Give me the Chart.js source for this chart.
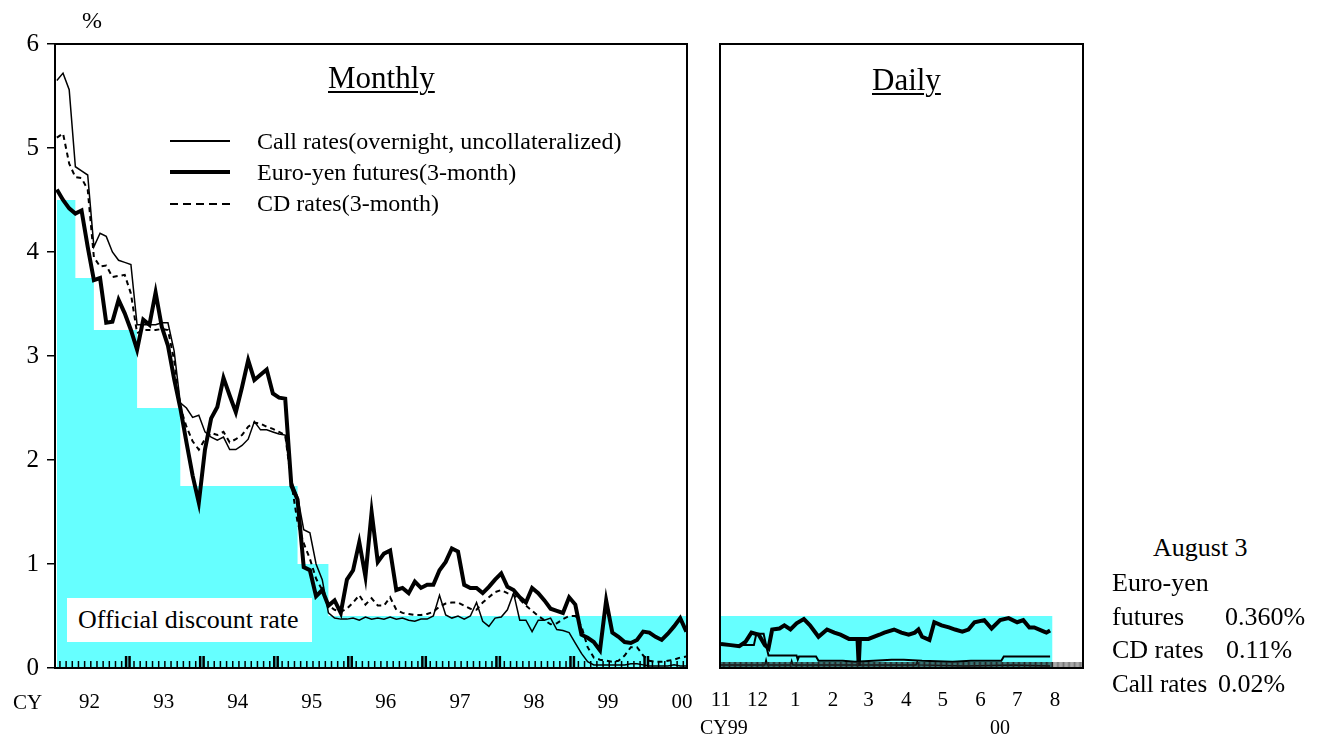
<!DOCTYPE html>
<html>
<head>
<meta charset="utf-8">
<script src="https://cdn.jsdelivr.net/npm/chart.js@4.4.1/dist/chart.umd.min.js"></script>
<style>
  body { margin: 0; background: #fff; width: 1323px; height: 740px; position: relative; overflow: hidden;
         font-family: "Liberation Serif", "DejaVu Serif", serif; color: #000; }
  canvas { position: absolute; top: 0; }
  .t { position: absolute; line-height: 1; white-space: nowrap; }
  .u { text-decoration: underline; text-underline-offset: 3px; text-decoration-thickness: 2px; }
  .ln { position: absolute; left: 170px; width: 60px; }
</style>
</head>
<body>
<canvas id="monthly" width="700" height="740" style="left:0"></canvas>
<canvas id="daily" width="420" height="740" style="left:700px"></canvas>

<div class="t" style="left:82px;top:8px;font-size:24px">%</div>
<div class="t" style="left:13px;top:692px;font-size:21px">CY</div>
<div class="t u" style="left:328px;top:62px;font-size:31px">Monthly</div>
<div class="t u" style="left:872px;top:64px;font-size:31px">Daily</div>

<div class="ln" style="top:140px;height:1.5px;background:#000"></div>
<div class="ln" style="top:170px;height:4px;background:#000"></div>
<div class="ln" style="top:203px;height:2px;background:repeating-linear-gradient(90deg,#000 0 8px,transparent 8px 13px)"></div>
<div class="t" style="left:257px;top:129px;font-size:24px">Call rates(overnight, uncollateralized)</div>
<div class="t" style="left:257px;top:160px;font-size:24px">Euro-yen futures(3-month)</div>
<div class="t" style="left:257px;top:191px;font-size:24px">CD rates(3-month)</div>

<div style="position:absolute;left:67px;top:598px;width:245px;height:44px;background:#fff"></div>
<div class="t" style="left:78px;top:607px;font-size:26px">Official discount rate</div>

<div class="t" style="left:700px;top:717px;font-size:20px">CY99</div>
<div class="t" style="left:990px;top:717px;font-size:20px">00</div>

<div class="t" style="left:1153px;top:535px;font-size:26px">August 3</div>
<div class="t" style="left:1112px;top:570px;font-size:26px">Euro-yen</div>
<div class="t" style="left:1112px;top:604px;font-size:26px">futures</div>
<div class="t" style="left:1225px;top:604px;font-size:26px">0.360%</div>
<div class="t" style="left:1112px;top:637px;font-size:26px">CD rates</div>
<div class="t" style="left:1226px;top:637px;font-size:26px">0.11%</div>
<div class="t" style="left:1112px;top:671px;font-size:25px">Call rates</div>
<div class="t" style="left:1218px;top:671px;font-size:26px">0.02%</div>

<script>
// ---- monthly data, Jan 1992 = month 0 ----
const callMonthly = [
  5.65, 5.72, 5.56, 4.82, 4.78, 4.74, 4.05, 4.18, 4.15, 4.00, 3.92, 3.90,
  3.88, 3.30, 3.30, 3.30, 3.30, 3.32, 3.32, 3.05, 2.55, 2.50, 2.41, 2.43,
  2.27, 2.22, 2.19, 2.22, 2.10, 2.10, 2.14, 2.20, 2.37, 2.29, 2.29, 2.27,
  2.25, 2.24, 1.80, 1.65, 1.33, 1.30, 1.00, 0.85, 0.53, 0.48, 0.47, 0.47,
  0.48, 0.46, 0.49, 0.47, 0.48, 0.47, 0.49, 0.47, 0.48, 0.46, 0.45, 0.47,
  0.47, 0.50, 0.70, 0.51, 0.48, 0.50, 0.47, 0.50, 0.63, 0.45, 0.40, 0.48,
  0.49, 0.56, 0.72, 0.46, 0.46, 0.35, 0.46, 0.46, 0.48, 0.37, 0.36, 0.34,
  0.24, 0.14, 0.06, 0.03, 0.03, 0.03, 0.03, 0.03, 0.03, 0.04, 0.04, 0.03,
  0.02, 0.02, 0.02, 0.02, 0.03, 0.02, 0.02
];
const futuresMonthly = [
  4.60, 4.50, 4.42, 4.37, 4.40, 4.05, 3.73, 3.75, 3.32, 3.33, 3.54, 3.41,
  3.25, 3.06, 3.35, 3.30, 3.61, 3.28, 3.10, 2.78, 2.50, 2.17, 1.85, 1.59,
  2.10, 2.40, 2.51, 2.79, 2.62, 2.46, 2.70, 2.96, 2.77, 2.82, 2.87, 2.64,
  2.60, 2.59, 1.75, 1.62, 0.97, 0.94, 0.69, 0.75, 0.60, 0.65, 0.53, 0.85,
  0.94, 1.21, 0.88, 1.50, 1.02, 1.10, 1.13, 0.75, 0.77, 0.72, 0.83, 0.77,
  0.80, 0.80, 0.94, 1.02, 1.15, 1.12, 0.80, 0.77, 0.77, 0.72, 0.78, 0.85,
  0.91, 0.78, 0.75, 0.68, 0.63, 0.77, 0.72, 0.65, 0.57, 0.55, 0.53, 0.68,
  0.61, 0.32, 0.29, 0.25, 0.17, 0.65, 0.34, 0.30, 0.25, 0.24, 0.27, 0.35,
  0.34, 0.30, 0.27, 0.33, 0.40, 0.48, 0.35
];
const cdMonthly = [
  5.10, 5.14, 4.85, 4.72, 4.71, 4.60, 3.95, 3.86, 3.87, 3.76, 3.77, 3.78,
  3.60, 3.22, 3.25, 3.25, 3.25, 3.26, 3.25, 2.96, 2.51, 2.32, 2.18, 2.10,
  2.20, 2.26, 2.24, 2.27, 2.17, 2.20, 2.24, 2.32, 2.36, 2.35, 2.32, 2.30,
  2.27, 2.24, 1.78, 1.40, 1.20, 1.05, 0.86, 0.75, 0.60, 0.56, 0.54, 0.57,
  0.63, 0.70, 0.61, 0.67, 0.60, 0.60, 0.68, 0.56, 0.53, 0.52, 0.51, 0.51,
  0.52, 0.54, 0.59, 0.62, 0.63, 0.63, 0.60, 0.57, 0.56, 0.63, 0.68, 0.73,
  0.75, 0.72, 0.70, 0.66, 0.60, 0.55, 0.50, 0.46, 0.42, 0.43, 0.47, 0.50,
  0.50, 0.40, 0.20, 0.10, 0.08, 0.07, 0.06, 0.07, 0.12, 0.20, 0.20, 0.12,
  0.07, 0.06, 0.06, 0.07, 0.08, 0.10, 0.11
];
// official discount rate: month of change and new level
const odrMonths = [0, 3, 6, 13, 20, 39, 44, 102];
const odrRates = [4.5, 3.75, 3.25, 2.5, 1.75, 1.0, 0.5, 0.5];
const yearLabels = ["92", "93", "94", "95", "96", "97", "98", "99", "00"];

// ---- daily data, Nov 1 1999 = day 0 ----
const futDays = [0, 8, 15, 20, 25, 31, 36, 39, 42, 48, 52, 57, 62, 68, 73, 80, 87, 93, 98, 105, 112, 113, 114,
  121, 130, 134, 142, 148, 154, 159, 162, 165, 171, 175, 181, 187, 192, 198, 203, 208, 216, 222, 229, 236,
  243, 248, 253, 257, 265, 267, 270];
const futDaily = [0.23, 0.22, 0.21, 0.25, 0.34, 0.32, 0.22, 0.19, 0.37, 0.38, 0.41, 0.37, 0.43, 0.47, 0.41, 0.30,
  0.37, 0.34, 0.32, 0.28, 0.28, 0.02, 0.28, 0.28, 0.32, 0.34, 0.37, 0.34, 0.32, 0.34, 0.37, 0.30, 0.27, 0.44,
  0.41, 0.39, 0.37, 0.35, 0.37, 0.44, 0.46, 0.38, 0.46, 0.48, 0.44, 0.46, 0.39, 0.39, 0.35, 0.34, 0.36];
const cdDays = [0, 27, 29, 35, 37, 39, 62, 63, 64, 78, 80, 100, 110, 125, 140, 150, 165, 190, 205, 230, 232, 270];
const cdDaily = [0.22, 0.22, 0.33, 0.33, 0.22, 0.12, 0.12, 0.08, 0.11, 0.11, 0.07, 0.07, 0.06, 0.07, 0.08, 0.08,
  0.07, 0.06, 0.07, 0.07, 0.11, 0.11];
const callDays = [0, 36, 37, 38, 57, 58, 59, 120, 160, 161, 162, 200, 240, 270];
const callDaily = [0.03, 0.03, 0.08, 0.03, 0.03, 0.07, 0.03, 0.03, 0.03, 0.06, 0.03, 0.02, 0.03, 0.02];
const odrDays = [0, 272];
const odrDaily = [0.5, 0.5];
const monthStarts = [0, 30, 61, 92, 121, 152, 182, 213, 243, 274];
const monthLabels = ["11", "12", "1", "2", "3", "4", "5", "6", "7", "8"];

const FONT = "Liberation Serif";
const pts = (xs, ys) => ys.map((y, i) => ({ x: xs[i], y }));
const idx = arr => arr.map((_, i) => i);

const frame = {
  id: "frame",
  afterDraw(chart) {
    const { ctx, chartArea: a } = chart;
    ctx.save();
    ctx.strokeStyle = "#000";
    ctx.lineWidth = 2;
    ctx.strokeRect(a.left, a.top, a.right - a.left, a.bottom - a.top);
    ctx.restore();
  }
};

// small tick marks standing up from the bottom axis
const innerTicks = {
  id: "innerTicks",
  afterDatasetsDraw(chart, args, opts) {
    const { ctx, chartArea } = chart;
    const xs = chart.scales.x;
    ctx.save();
    (opts.marks || []).forEach(m => {
      const px = xs.getPixelForValue(m.v);
      ctx.fillStyle = m.c;
      ctx.fillRect(px - m.w / 2, chartArea.bottom - m.h, m.w, m.h);
    });
    ctx.restore();
  }
};

function lineSet(data, width, dash) {
  return {
    data, borderColor: "#000", borderWidth: width, borderDash: dash || [],
    pointRadius: 0, tension: 0, fill: false, order: 1
  };
}
function odrSet(data) {
  return {
    data, stepped: true, borderWidth: 0, borderColor: "rgba(0,0,0,0)",
    backgroundColor: "#66ffff", fill: "origin", pointRadius: 0, order: 10
  };
}
// fixed bottom axis: no extra side padding for the end labels
function fixX(s) {
  s.height = 72;
  s.paddingLeft = 0;
  s.paddingRight = 0;
}

const monthMarks = [];
for (let k = 0; k <= 101; k++) {
  const v = k + 0.5;
  if ((k + 1) % 12 === 0) {
    monthMarks.push({ v: v - 0.28, w: 2.5, h: 12, c: "#000" });
    monthMarks.push({ v: v + 0.28, w: 2.5, h: 12, c: "#000" });
  } else {
    monthMarks.push({ v, w: 1.5, h: 7, c: "#000" });
  }
}
const dayMarks = [];
for (let d = 0; d <= 297; d++) dayMarks.push({ v: d, w: 1, h: 6, c: d <= 272 ? "#222" : "#777" });

const common = {
  responsive: false,
  animation: false,
  plugins: { legend: { display: false }, tooltip: { enabled: false } }
};

new Chart(document.getElementById("monthly"), {
  type: "line",
  data: {
    datasets: [
      lineSet(pts(idx(futuresMonthly), futuresMonthly), 4),
      lineSet(pts(idx(callMonthly), callMonthly), 1.5),
      lineSet(pts(idx(cdMonthly), cdMonthly), 2, [5, 4]),
      odrSet(pts(odrMonths, odrRates))
    ]
  },
  options: {
    ...common,
    layout: { padding: { top: 44, right: 13, left: 0, bottom: 0 } },
    plugins: { ...common.plugins, innerTicks: { marks: monthMarks } },
    scales: {
      x: {
        type: "linear", min: -0.3, max: 102.1,
        afterBuildTicks: s => { s.ticks = yearLabels.map((_, i) => ({ value: 5.3 + 12 * i })); },
        afterFit: fixX,
        ticks: { callback: (v, i) => yearLabels[i], autoSkip: false, maxRotation: 0,
                 font: { family: FONT, size: 21 }, color: "#000", padding: 22 },
        grid: { display: false, drawTicks: false },
        border: { color: "#000", width: 2 }
      },
      y: {
        min: 0, max: 6,
        afterFit: s => { s.width = 55; },
        ticks: { stepSize: 1, font: { family: FONT, size: 25 }, color: "#000", padding: 8 },
        grid: { drawOnChartArea: false, tickLength: 8, color: "#000", lineWidth: 1.5 },
        border: { color: "#000", width: 2 }
      }
    }
  },
  plugins: [frame, innerTicks]
});

new Chart(document.getElementById("daily"), {
  type: "line",
  data: {
    datasets: [
      lineSet(pts(futDays, futDaily), 4),
      lineSet(pts(callDays, callDaily), 1.5),
      lineSet(pts(cdDays, cdDaily), 2),
      odrSet(pts(odrDays, odrDaily))
    ]
  },
  options: {
    ...common,
    layout: { padding: { top: 44, right: 37, left: 20, bottom: 0 } },
    plugins: { ...common.plugins, innerTicks: { marks: dayMarks } },
    scales: {
      x: {
        type: "linear", min: -0.8, max: 297,
        afterBuildTicks: s => { s.ticks = monthStarts.map(v => ({ value: v })); },
        afterFit: fixX,
        ticks: { callback: (v, i) => monthLabels[i], autoSkip: false, maxRotation: 0,
                 font: { family: FONT, size: 21 }, color: "#000", padding: 20 },
        grid: { display: false, drawTicks: false },
        border: { color: "#000", width: 2 }
      },
      y: { display: false, min: 0, max: 6 }
    }
  },
  plugins: [frame, innerTicks]
});
</script>
</body>
</html>
